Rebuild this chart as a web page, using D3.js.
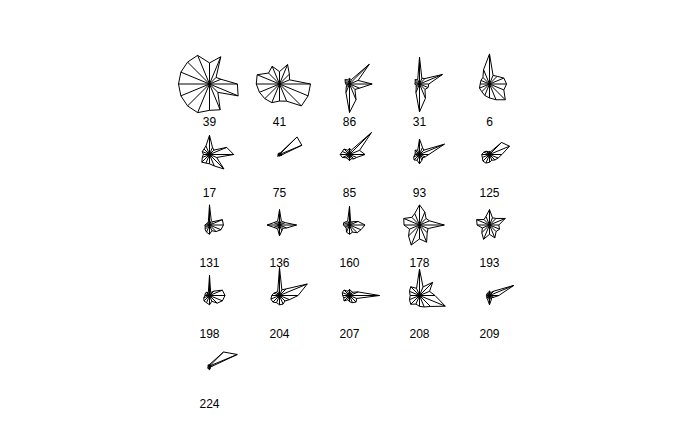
<!DOCTYPE html>
<html>
<head>
<meta charset="utf-8">
<script src="https://cdn.jsdelivr.net/npm/d3@7"></script>
<style>
  html, body { margin: 0; padding: 0; background: #ffffff; }
  svg { display: block; }
</style>
</head>
<body>
<svg id="chart" width="700" height="432"></svg>
<script>
// Star labels (observations), in drawing order
const labels = ["39", "41", "86", "31", "6",
                "17", "75", "85", "93", "125",
                "131", "136", "160", "178", "193",
                "198", "204", "207", "208", "209",
                "224"];

// 16 variables per star, scaled 0..1, variable 1 points east, counter-clockwise
const v39  = [0.90, 0.40, 0.30, 0.95, 0.68, 1.00, 1.00, 1.00, 1.00, 1.00, 1.00, 1.00, 0.85, 0.90, 0.38, 1.00];
const v41  = [1.00, 0.35, 0.45, 0.68, 0.40, 0.62, 0.50, 0.78, 0.75, 0.70, 0.67, 0.65, 0.55, 0.60, 1.00, 1.00];
const v86  = [0.73, 0.30, 0.90, 0.15, 0.18, 0.15, 0.20, 0.15, 0.12, 0.10, 0.15, 0.30, 0.92, 0.55, 0.25, 0.35];
const v31  = [0.30, 0.80, 0.25, 0.20, 0.87, 0.15, 0.20, 0.15, 0.15, 0.12, 0.15, 0.30, 0.90, 0.50, 0.25, 0.30];
const v6   = [0.55, 0.50, 0.35, 0.30, 0.97, 0.50, 0.30, 0.30, 0.30, 0.35, 0.35, 0.40, 0.45, 0.55, 0.72, 0.50];
const v17  = [0.78, 0.60, 0.20, 0.25, 0.62, 0.30, 0.25, 0.25, 0.20, 0.25, 0.35, 0.30, 0.30, 0.40, 0.66, 0.25];
const v75  = [0.10, 0.78, 0.80, 0.05, 0.05, 0.05, 0.05, 0.05, 0.05, 0.05, 0.08, 0.05, 0.05, 0.05, 0.05, 0.08];
const v85  = [0.50, 0.35, 1.00, 0.15, 0.20, 0.15, 0.25, 0.25, 0.30, 0.25, 0.15, 0.15, 0.20, 0.15, 0.20, 0.25];
const v93  = [0.30, 0.87, 0.20, 0.25, 0.50, 0.15, 0.20, 0.15, 0.15, 0.20, 0.25, 0.20, 0.30, 0.20, 0.15, 0.20];
const v125 = [0.40, 0.70, 0.55, 0.10, 0.10, 0.10, 0.15, 0.20, 0.25, 0.25, 0.30, 0.30, 0.25, 0.20, 0.25, 0.30];
const v131 = [0.45, 0.45, 0.15, 0.15, 0.65, 0.10, 0.10, 0.10, 0.15, 0.15, 0.20, 0.25, 0.30, 0.20, 0.30, 0.40];
const v136 = [0.55, 0.20, 0.15, 0.15, 0.50, 0.15, 0.15, 0.20, 0.40, 0.20, 0.15, 0.15, 0.35, 0.20, 0.15, 0.25];
const v160 = [0.50, 0.30, 0.15, 0.10, 0.60, 0.15, 0.15, 0.20, 0.20, 0.15, 0.15, 0.25, 0.30, 0.25, 0.35, 0.40];
const v178 = [0.80, 0.35, 0.30, 0.45, 0.65, 0.40, 0.35, 0.55, 0.50, 0.35, 0.50, 0.70, 0.45, 0.60, 0.35, 0.30];
const v193 = [0.30, 0.55, 0.30, 0.25, 0.50, 0.30, 0.25, 0.45, 0.40, 0.25, 0.35, 0.50, 0.30, 0.45, 0.30, 0.35];
const v198 = [0.50, 0.45, 0.20, 0.10, 0.65, 0.10, 0.15, 0.15, 0.15, 0.20, 0.25, 0.25, 0.30, 0.20, 0.35, 0.45];
const v204 = [0.60, 0.97, 0.30, 0.20, 0.90, 0.15, 0.15, 0.20, 0.25, 0.30, 0.30, 0.25, 0.30, 0.30, 0.25, 0.35];
const v207 = [0.97, 0.30, 0.15, 0.15, 0.20, 0.15, 0.25, 0.25, 0.22, 0.20, 0.25, 0.15, 0.20, 0.25, 0.30, 0.25];
const v208 = [0.50, 0.35, 0.60, 0.30, 0.85, 0.25, 0.40, 0.35, 0.30, 0.35, 0.40, 0.30, 0.35, 0.40, 0.50, 0.90];
const v209 = [0.30, 0.85, 0.20, 0.10, 0.15, 0.10, 0.10, 0.10, 0.10, 0.10, 0.12, 0.15, 0.30, 0.15, 0.10, 0.15];
const v224 = [0.10, 0.97, 0.64, 0.08, 0.05, 0.05, 0.05, 0.05, 0.05, 0.05, 0.08, 0.10, 0.12, 0.08, 0.05, 0.05];

const series = [v39, v41, v86, v31, v6, v17, v75, v85, v93, v125,
                v131, v136, v160, v178, v193, v198, v204, v207, v208, v209, v224];

const ncol = 5, nrow = 5, nvar = 16;

const svg = d3.select("#chart");

const xScale = d3.scaleLinear().domain([0, ncol - 1]).range([209.5, 489.5]);
const yScale = d3.scaleLinear().domain([0, nrow - 1]).range([84, 366]);
const rScale = d3.scaleLinear().domain([0, 1]).range([0, 31]);
const aScale = d3.scaleLinear().domain([0, nvar]).range([0, 2 * Math.PI]);

series.forEach((vals, i) => {
  const col = i % ncol, row = Math.floor(i / ncol);
  const cx = xScale(col), cy = yScale(row);
  const pts = vals.map((v, k) => [
    cx + rScale(v) * Math.cos(aScale(k)),
    cy - rScale(v) * Math.sin(aScale(k))
  ]);
  const g = svg.append("g");
  g.append("path")
    .attr("d", d3.line()(pts) + "Z")
    .attr("fill", "none")
    .attr("stroke", "#000")
    .attr("stroke-width", 1);
  pts.forEach(p => {
    g.append("line")
      .attr("x1", cx).attr("y1", cy)
      .attr("x2", p[0]).attr("y2", p[1])
      .attr("stroke", "#000")
      .attr("stroke-width", 1);
  });
  g.append("text")
    .attr("x", cx)
    .attr("y", cy + 42)
    .attr("text-anchor", "middle")
    .attr("font-family", "Liberation Sans, Arial, sans-serif")
    .attr("font-size", 12)
    .attr("fill", "#000")
    .text(labels[i]);
});
</script>
</body>
</html>
